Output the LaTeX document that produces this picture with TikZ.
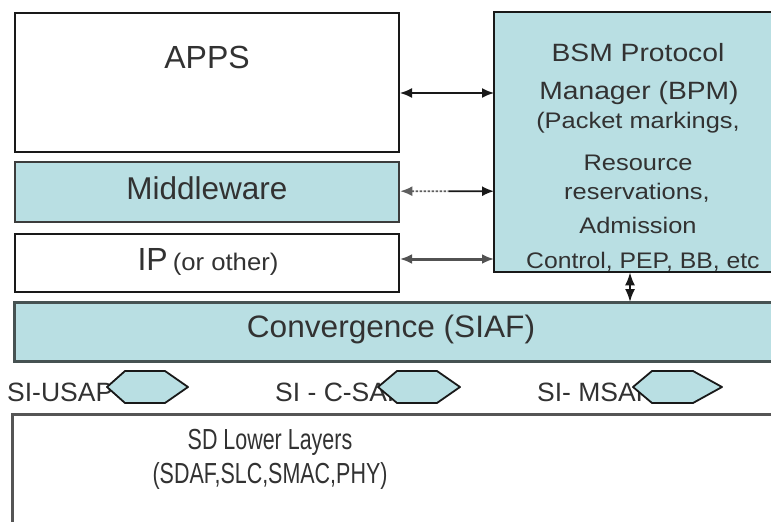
\documentclass[tikz,border=0pt]{standalone}
\usepackage{fontspec}
\setmainfont{Liberation Sans}
\usetikzlibrary{arrows.meta,calc}
\definecolor{lb}{RGB}{185,223,227}
\definecolor{txt}{RGB}{50,50,50}
\definecolor{bord}{RGB}{25,25,25}
\definecolor{gbord}{RGB}{70,82,82}
\definecolor{sbord}{RGB}{85,85,85}
\newcommand{\tx}[3]{\scalebox{#2}[1]{\fontsize{#1}{#1}\selectfont #3}}
\begin{document}
\begin{tikzpicture}[x=1pt,y=-1pt,
  box/.style={draw=bord,line width=2pt,rectangle,inner sep=0pt,anchor=north west},
  openbox/.style={rectangle,inner sep=0pt,anchor=north west},
  lbl/.style={text=txt,inner sep=0pt,anchor=base},
  saplbl/.style={text=txt,inner sep=0pt,anchor=base west},
  hexa/.style={draw=bord,fill=lb,line width=1.8pt,line join=round},
  arr/.style={line width=1.6pt,draw=bord,{Latex[length=12pt,width=10pt]}-{Latex[length=12pt,width=10pt]}}
]
\useasboundingbox (0,0) rectangle (771,522);
\clip (0,0) rectangle (771,522);
\fill[white] (0,0) rectangle (771,522);

% boxes
\node[box,fill=white,minimum width=384pt,minimum height=139pt] (apps) at (14,12) {};
\node[box,fill=lb,draw=bord!85,line width=2.4pt,minimum width=384pt,minimum height=60pt] (mid) at (14,161) {};
\node[box,fill=white,minimum width=384pt,minimum height=58pt] (ip) at (14,233) {};
\node[openbox,fill=lb,minimum width=320pt,minimum height=260pt] (bpm) at (494,12) {};
\draw[draw=bord,line width=2pt,line join=miter] (bpm.north east) -- (bpm.north west) -- (bpm.south west) -- (bpm.south east);
\node[openbox,fill=lb,minimum width=800pt,minimum height=59pt] (conv) at (14,302) {};
\draw[draw=gbord,line width=3pt,line join=miter] (conv.north east) -- (conv.north west) -- (conv.south west) -- (conv.south east);
\node[openbox,fill=white,minimum width=800pt,minimum height=130pt] (sd) at (12,414) {};
\draw[draw=sbord,line width=3pt,line join=miter] (sd.north east) -- (sd.north west) -- (sd.south west);

% labels
\node[lbl] (appst) at (207,68) {\tx{32}{1}{APPS}};
\node[lbl] (midt) at (207,199) {\tx{31.5}{1}{Middleware}};
\node[lbl] (ipt) at (208,270) {\tx{32}{1}{IP}\hspace{5pt}\tx{24}{1.07}{(or other)}};
\node[lbl] (convt) at (391,337) {\tx{31}{1.02}{Convergence (SIAF)}};
\node[lbl] (bpm1) at (638,61) {\tx{25}{1.13}{BSM Protocol}};
\node[lbl] (bpm2) at (639,99) {\tx{25}{1.13}{Manager (BPM)}};
\node[lbl] (bpm3) at (638,128) {\tx{22.5}{1.13}{(Packet markings,}};
\node[lbl] (bpm4) at (638,170) {\tx{22.5}{1.13}{Resource}};
\node[lbl] (bpm5) at (637,199) {\tx{22.5}{1.13}{reservations,}};
\node[lbl] (bpm6) at (638,233) {\tx{22.5}{1.13}{Admission}};
\node[text=txt,inner sep=0pt,anchor=base west] (bpm7) at (526,268) {\tx{22.5}{1.1}{Control, PEP, BB, etc}};
\node[lbl] (sdt1) at (270,449) {\tx{29}{0.74}{SD Lower Layers}};
\node[lbl] (sdt2) at (270,483) {\tx{29}{0.74}{(SDAF,SLC,SMAC,PHY)}};

% SAP labels
\node[saplbl] (sap1) at (7,401) {\tx{26.5}{1}{SI-USAP}};
\node[saplbl] (sap2) at (275,401) {\tx{26.5}{1}{SI - C-SAP}};
\node[saplbl] (sap3) at (537,401) {\tx{26.5}{1}{SI- MSAP}};

% hexagons
\draw[hexa] (107,387) -- (125,371) -- (165,371) -- (188,387) -- (165,403) -- (125,403) -- cycle;
\draw[hexa] (378,387) -- (397,371) -- (437,371) -- (460,387) -- (437,403) -- (397,403) -- cycle;
\draw[hexa] (633,387) -- (652,371) -- (693,371) -- (722,387) -- (693,403) -- (652,403) -- cycle;

% arrows
\draw[arr] ([yshift=-10.5pt]apps.east) -- ([yshift=-10.5pt]apps.east -| bpm.west);
\coordinate (mm) at ($(mid.east)!0.52!(mid.east -| bpm.west)$);
\draw[line width=1.6pt,draw=bord!70,dash pattern=on 2.5pt off 1.5pt,{Latex[length=12pt,width=10pt]}-] ([yshift=1pt]mid.east) -- ([yshift=1pt]mm);
\draw[line width=1.6pt,draw=bord,-{Latex[length=12pt,width=10pt]}] ([yshift=1pt]mm) -- ([yshift=1pt]mid.east -| bpm.west);
\draw[arr,line width=3pt,draw=bord!75] ([yshift=4pt]ip.east) -- ([yshift=4pt]ip.east -| bpm.west);
\draw[line width=1.8pt,draw=bord,{Latex[length=13pt,width=10pt]}-{Latex[length=13pt,width=10pt]}] (bpm.south -| 630,0) -- (conv.north -| 630,0);
\end{tikzpicture}
\end{document}
